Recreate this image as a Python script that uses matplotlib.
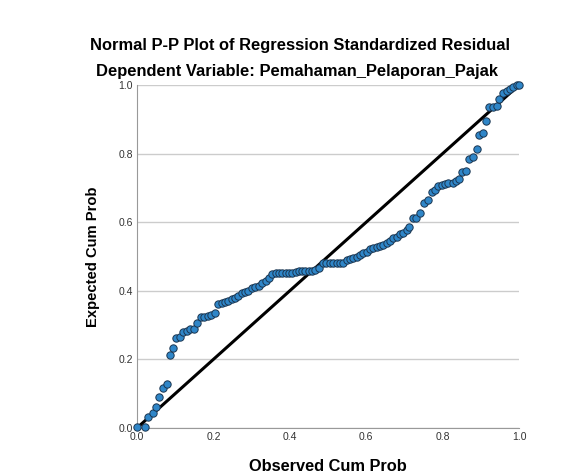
import matplotlib.pyplot as plt

plt.rcParams['font.family'] = ['Liberation Sans', 'DejaVu Sans']

# observed cumulative probability (x) and expected cumulative probability (y)
obs_cum = [0.000, 0.021, 0.030, 0.041, 0.050, 0.058, 0.067, 0.078, 0.086, 0.095,
           0.102, 0.113, 0.121, 0.132, 0.140, 0.149, 0.158, 0.167, 0.175, 0.185,
           0.194, 0.204, 0.213, 0.222, 0.230, 0.239, 0.248, 0.257, 0.265, 0.274,
           0.283, 0.291, 0.300, 0.309, 0.319, 0.328, 0.337, 0.346, 0.354, 0.363,
           0.372, 0.380, 0.389, 0.398, 0.406, 0.415, 0.424, 0.433, 0.441, 0.450,
           0.459, 0.467, 0.476, 0.488, 0.496, 0.505, 0.514, 0.523, 0.531, 0.540,
           0.549, 0.558, 0.566, 0.575, 0.584, 0.592, 0.601, 0.610, 0.619, 0.627,
           0.636, 0.645, 0.654, 0.662, 0.671, 0.680, 0.688, 0.697, 0.706, 0.713,
           0.722, 0.730, 0.741, 0.750, 0.761, 0.771, 0.780, 0.789, 0.798, 0.806,
           0.815, 0.826, 0.834, 0.844, 0.852, 0.860, 0.870, 0.880, 0.889, 0.896,
           0.905, 0.914, 0.922, 0.933, 0.942, 0.948, 0.957, 0.968, 0.976, 0.985,
           0.994, 1.000]

exp_cum = [0.004, 0.004, 0.033, 0.043, 0.062, 0.091, 0.117, 0.128, 0.213, 0.232,
           0.262, 0.264, 0.281, 0.283, 0.289, 0.288, 0.307, 0.323, 0.325, 0.327,
           0.329, 0.336, 0.361, 0.365, 0.368, 0.371, 0.375, 0.380, 0.386, 0.393,
           0.397, 0.399, 0.409, 0.412, 0.414, 0.422, 0.429, 0.436, 0.448, 0.451,
           0.451, 0.451, 0.451, 0.451, 0.452, 0.455, 0.457, 0.459, 0.459, 0.459,
           0.459, 0.460, 0.466, 0.480, 0.480, 0.480, 0.480, 0.480, 0.481, 0.482,
           0.490, 0.493, 0.495, 0.499, 0.504, 0.509, 0.514, 0.521, 0.524, 0.527,
           0.531, 0.534, 0.538, 0.546, 0.553, 0.558, 0.566, 0.569, 0.577, 0.587,
           0.611, 0.613, 0.626, 0.657, 0.665, 0.689, 0.694, 0.706, 0.708, 0.711,
           0.713, 0.715, 0.721, 0.726, 0.747, 0.750, 0.783, 0.791, 0.813, 0.854,
           0.859, 0.895, 0.935, 0.937, 0.939, 0.958, 0.978, 0.983, 0.987, 0.995,
           1.000, 1.000]

ticks = [0.0, 0.2, 0.4, 0.6, 0.8, 1.0]
tick_labels = ['0.0', '0.2', '0.4', '0.6', '0.8', '1.0']

fig = plt.figure(figsize=(5.66, 4.75), dpi=100)
ax = fig.add_axes([0.242, 0.099, 0.675, 0.722])

ax.set_xlim(0, 1)
ax.set_ylim(0, 1)
ax.set_yticks(ticks)
ax.set_xticks(ticks)
ax.set_yticklabels(tick_labels)
ax.set_xticklabels(tick_labels)
ax.tick_params(labelsize=7.5, length=0, colors='#333333', pad=3)
ax.grid(axis='y', color='#cccccc', linewidth=1)
ax.set_axisbelow(True)
for s in ['top', 'right']:
    ax.spines[s].set_visible(False)
for s in ['left', 'bottom']:
    ax.spines[s].set_color('#999999')

ax.plot([0, 1], [0, 1], color='black', linewidth=2.2, zorder=2, clip_on=False)
ax.scatter(obs_cum, exp_cum, s=28, color='#2f86c8', edgecolor='#1a3550',
           linewidth=0.7, zorder=3, clip_on=False)

ax.set_xlabel('Observed Cum Prob', fontsize=11.8, fontweight='bold', labelpad=12)
ax.set_ylabel('Expected Cum Prob', fontsize=10.6, fontweight='bold', labelpad=13)

fig.text(0.53, 0.905, 'Normal P-P Plot of Regression Standardized Residual',
         ha='center', va='center', fontsize=11.9, fontweight='bold')
fig.text(0.525, 0.849, 'Dependent Variable: Pemahaman_Pelaporan_Pajak',
         ha='center', va='center', fontsize=11.9, fontweight='bold')

fig.savefig('out.png', dpi=100)
